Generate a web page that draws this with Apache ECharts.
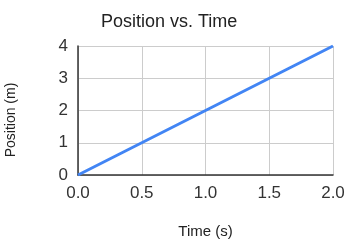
<!DOCTYPE html>
<html>
<head>
<meta charset="utf-8">
<script src="https://cdn.jsdelivr.net/npm/echarts@6/dist/echarts.min.js"></script>
<style>html,body{margin:0;padding:0;background:#fff}#c{width:346px;height:240px}</style>
</head>
<body>
<div id="c"></div>
<script>
const timeValues = [0, 0.5, 1.0, 1.5, 2.0];
const positionValues = [0, 1, 2, 3, 4];
const titleText = 'Position vs. Time';
const xName = 'Time (s)';
const yName = 'Position (m)';

const FONT = 'Liberation Sans, Arial, sans-serif';
const chart = echarts.init(document.getElementById('c'), null, {renderer: 'canvas'});
chart.setOption({
  animation: false,
  backgroundColor: '#fff',
  title: {
    text: titleText,
    left: 96, top: 8,
    textStyle: {fontFamily: FONT, fontSize: 18, fontWeight: 'normal', color: '#222'}
  },
  graphic: [{
    type: 'text', x: 11, y: 120, rotation: Math.PI / 2,
    style: {text: yName, fontFamily: FONT, fontSize: 14, fill: '#222', textAlign: 'center', textVerticalAlign: 'middle'}
  }],
  grid: {left: 78, right: 13, top: 46, bottom: 65, containLabel: false, outerBoundsMode: 'none'},
  xAxis: {
    type: 'value', min: 0, max: 2, interval: 0.5,
    name: xName, nameLocation: 'middle', nameGap: 49,
    nameTextStyle: {fontFamily: FONT, fontSize: 15, color: '#222'},
    axisLine: {show: true, lineStyle: {color: '#333', width: 1.5}},
    axisTick: {show: false},
    axisLabel: {formatter: v => v.toFixed(1), fontFamily: FONT, fontSize: 17, color: '#333', margin: 10},
    splitLine: {show: true, lineStyle: {color: '#ccc', width: 1}}
  },
  yAxis: {
    type: 'value', min: 0, max: 4, interval: 1,
    axisLine: {show: true, lineStyle: {color: '#333', width: 1.5}},
    axisTick: {show: false},
    axisLabel: {fontFamily: FONT, fontSize: 17, color: '#333', margin: 10},
    splitLine: {show: true, lineStyle: {color: '#ccc', width: 1}}
  },
  series: [{
    type: 'line',
    data: timeValues.map((t, i) => [t, positionValues[i]]),
    showSymbol: false,
    lineStyle: {color: '#4285F4', width: 3},
    itemStyle: {color: '#4285F4'}
  }]
});
</script>
</body>
</html>
